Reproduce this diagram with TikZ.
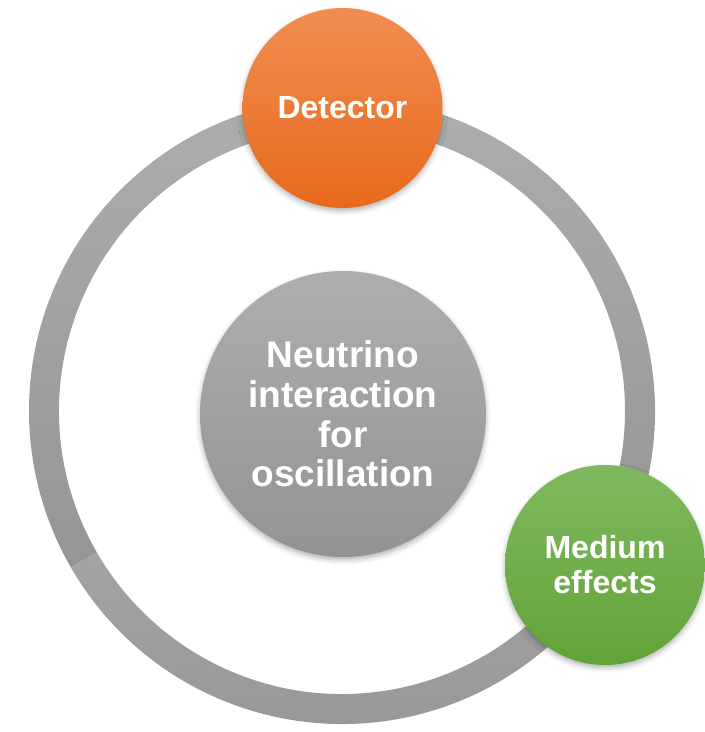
\documentclass[tikz,border=0pt]{standalone}
\usepackage{fontspec}
\setmainfont{Liberation Sans}
\usetikzlibrary{shadows.blur}
\definecolor{ringlight}{HTML}{ADADAD}
\definecolor{ringdark}{HTML}{959595}
\definecolor{coretop}{HTML}{AEAEAE}
\definecolor{corebottom}{HTML}{939393}
\definecolor{detectortop}{HTML}{F18D52}
\definecolor{detectorbottom}{HTML}{E7691B}
\definecolor{mediumtop}{HTML}{7FB95F}
\definecolor{mediumbottom}{HTML}{62A338}
\tikzset{bubble/.style={circle,inner sep=0pt,align=center,text=white,
    blur shadow={shadow xshift=0pt,shadow yshift=-3pt,shadow blur radius=5pt,shadow opacity=30}}}

\begin{document}
\begin{tikzpicture}[x=1pt,y=1pt]
\useasboundingbox (0,0) rectangle (705,732);
\coordinate (ring) at (342,321);
% outer ring, three segments
\path[top color=ringlight,bottom color=ringdark] (ring) ++(90:313) arc[start angle=90,end angle=210,radius=313]
  -- ++(210:-30) arc[start angle=210,end angle=90,radius=283] -- cycle;
\path[top color=ringlight,bottom color=ringdark] (ring) ++(210:313) arc[start angle=210,end angle=330,radius=313]
  -- ++(330:-30) arc[start angle=330,end angle=210,radius=283] -- cycle;
\path[top color=ringlight,bottom color=ringdark] (ring) ++(330:313) arc[start angle=330,end angle=450,radius=313]
  -- ++(90:-30) arc[start angle=450,end angle=330,radius=283] -- cycle;
% circles
\node[bubble,minimum size=286,top color=coretop,bottom color=corebottom,
  font=\fontsize{37}{39.7}\selectfont\bfseries] (core) at (343,318) {Neutrino\\interaction\\for\\oscillation};
\node[bubble,minimum size=200,top color=detectortop,bottom color=detectorbottom,
  font=\fontsize{32}{35}\selectfont\bfseries] (detector) at (342.5,624) {Detector};
\node[bubble,minimum size=200,top color=mediumtop,bottom color=mediumbottom,
  font=\fontsize{32}{35}\selectfont\bfseries] (medium) at (605,167) {Medium\\effects};
\end{tikzpicture}
\end{document}
